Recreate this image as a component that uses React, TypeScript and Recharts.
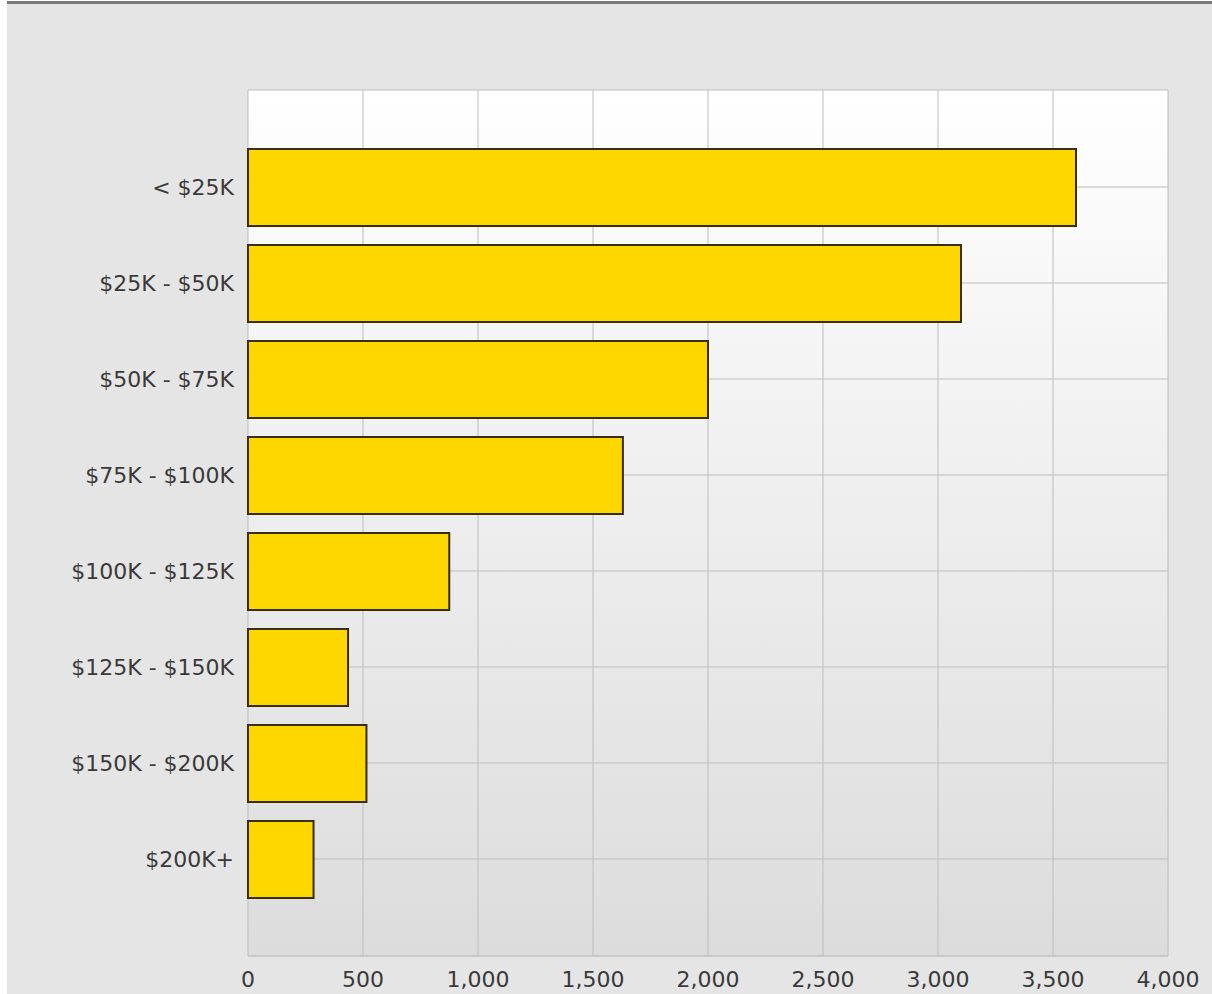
import { BarChart, Bar, XAxis, YAxis, CartesianGrid } from 'recharts'

const incomeBands = [
  '< $25K',
  '$25K - $50K',
  '$50K - $75K',
  '$75K - $100K',
  '$100K - $125K',
  '$125K - $150K',
  '$150K - $200K',
  '$200K+',
]
const households = [3600, 3100, 2000, 1630, 875, 435, 515, 285]
const xTicks = [0, 500, 1000, 1500, 2000, 2500, 3000, 3500, 4000]

const data = incomeBands.map((band, i) => ({ band, value: households[i] }))

const tickStyle = { fontSize: 22, fill: '#3a3a3a', fontFamily: '"DejaVu Sans", Verdana, sans-serif' }

export default function App() {
  return (
    <div
      style={{
        position: 'absolute',
        left: 7,
        top: 1,
        width: 1205,
        height: 990,
        background: '#e5e5e5',
        borderTop: '3px solid #7a7a7a',
      }}
    >
      <BarChart
        width={1205}
        height={990}
        data={data}
        layout="vertical"
        margin={{ top: 86, right: 44, left: 0, bottom: 0 }}
      >
        <defs>
          <linearGradient id="plotBg" x1="0" y1="0" x2="0" y2="1">
            <stop offset="0%" stopColor="#ffffff" />
            <stop offset="100%" stopColor="#dcdcdc" />
          </linearGradient>
        </defs>
        <CartesianGrid stroke="#bdbdbd" fill="url(#plotBg)" fillOpacity={1} />
        <XAxis
          xAxisId="frame"
          orientation="top"
          type="number"
          domain={[0, 4000]}
          height={0}
          tick={false}
          tickLine={false}
          axisLine={{ stroke: '#cfcfcf' }}
        />
        <XAxis
          type="number"
          domain={[0, 4000]}
          ticks={xTicks}
          tickFormatter={(v: number) => v.toLocaleString('en-US')}
          axisLine={{ stroke: '#c4c4c4' }}
          tickLine={false}
          tickSize={0}
          tickMargin={15}
          height={38}
          tick={tickStyle}
          interval={0}
        />
        <YAxis
          type="category"
          dataKey="band"
          width={241}
          axisLine={false}
          tickLine={false}
          tickSize={0}
          tickMargin={14}
          padding={{ top: 49, bottom: 49 }}
          tick={tickStyle}
          interval={0}
        />
        <Bar
          dataKey="value"
          fill="#ffd700"
          stroke="#3b2c14"
          strokeWidth={2}
          barSize={77}
          isAnimationActive={false}
        />
      </BarChart>
    </div>
  )
}
